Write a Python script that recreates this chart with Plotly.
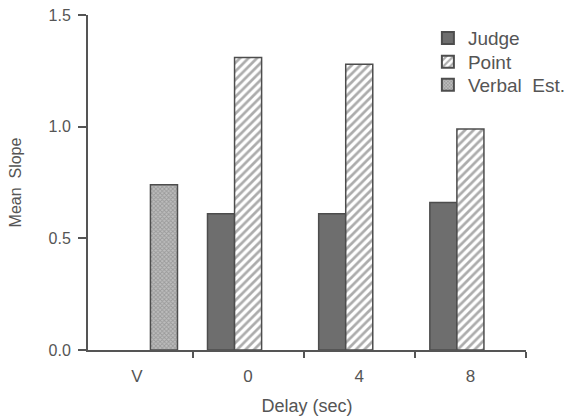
import plotly.graph_objects as go

# Delay conditions (V = verbal estimate, then delays in seconds)
categories = ["V", "0", "4", "8"]

# Mean slope per response mode (None where the mode was not tested)
judge = [None, 0.61, 0.61, 0.66]
point = [None, 1.31, 1.28, 0.99]
verbal = [0.74, None, None, None]

y_ticks = [0.0, 0.5, 1.0, 1.5]
y_tick_text = ["0.0", "0.5", "1.0", "1.5"]

ink = "#555555"
edge = "#4d4d4d"
font_family = "Liberation Sans, Arial, sans-serif"

fig = go.Figure()
fig.add_trace(go.Bar(
    name="Judge", x=categories, y=judge, legend="legend",
    marker=dict(color="#6e6e6e", line=dict(color=edge, width=1.5)),
))
fig.add_trace(go.Bar(
    name="Point", x=categories, y=point, legend="legend2",
    marker=dict(
        color="#ffffff",
        line=dict(color=edge, width=1.5),
        pattern=dict(shape="/", fgcolor="#5a5a5a", bgcolor="#ffffff",
                     size=6, solidity=0.45),
    ),
))
fig.add_trace(go.Bar(
    name="Verbal  Est.", x=categories, y=verbal, legend="legend3",
    marker=dict(
        color="#9a9a9a",
        line=dict(color=edge, width=1.5),
        pattern=dict(shape="x", fgcolor="#777777", bgcolor="#bdbdbd",
                     size=3, solidity=0.5),
    ),
))

# one single-entry legend per series so the rows sit at fixed heights
legend_style = dict(
    x=0.776, xanchor="left", yanchor="middle",
    font=dict(size=19, color=ink), bgcolor="rgba(0,0,0,0)",
    itemsizing="constant",
)

fig.update_layout(
    width=567, height=418,
    margin=dict(l=88, r=41, t=15, b=68, autoexpand=False),
    paper_bgcolor="white", plot_bgcolor="white",
    barmode="group", bargap=0.27, bargroupgap=0,
    font=dict(family=font_family, color=ink, size=16),
    showlegend=True,
    legend=dict(legend_style, y=0.931),
    legend2=dict(legend_style, y=0.860),
    legend3=dict(legend_style, y=0.791),
    xaxis=dict(
        type="category", range=[-0.44, 3.5], automargin=False,
        showline=True, linecolor=ink, linewidth=2,
        ticks="outside", tickson="boundaries", ticklen=6, tickwidth=2,
        tickcolor=ink, showgrid=False, zeroline=False,
        tickfont=dict(size=17, color=ink), ticklabelstandoff=10,
        title=dict(text="Delay (sec)", font=dict(size=18, color=ink), standoff=14),
    ),
    yaxis=dict(
        range=[0, 1.5], tickvals=y_ticks, ticktext=y_tick_text, automargin=False,
        showline=True, linecolor=ink, linewidth=2,
        ticks="outside", ticklen=8, tickwidth=2, tickcolor=ink,
        showgrid=False, zeroline=False,
        tickfont=dict(size=16, color=ink), ticklabelstandoff=4,
        title=dict(text="Mean  Slope", font=dict(size=16, color=ink), standoff=23),
    ),
)

fig.write_html("out.html")
